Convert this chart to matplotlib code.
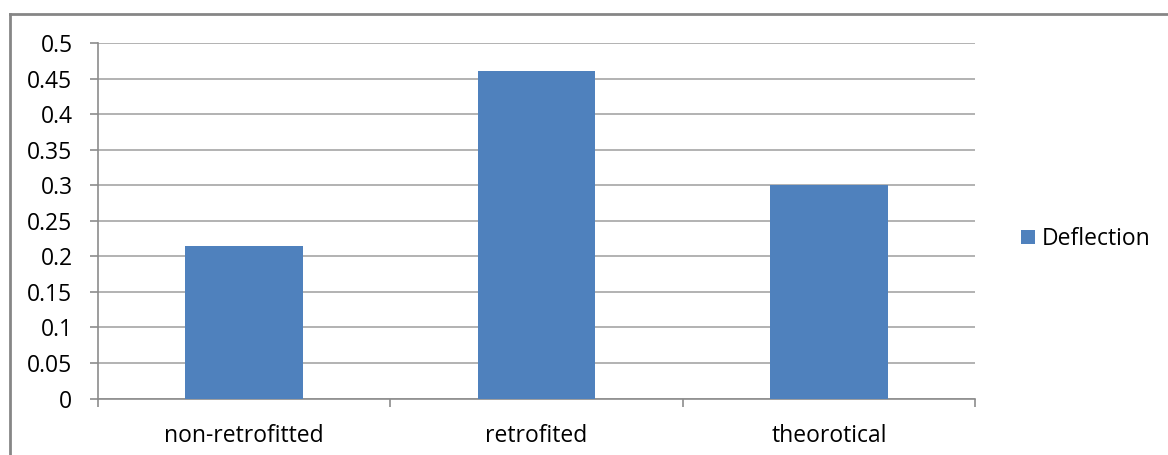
import matplotlib.pyplot as plt
from matplotlib.lines import Line2D
from matplotlib.patches import Patch

categories = ["non-retrofitted", "retrofited", "theorotical"]
deflection = [0.215, 0.46, 0.30]
yticks = [0, 0.05, 0.1, 0.15, 0.2, 0.25, 0.3, 0.35, 0.4, 0.45, 0.5]
ytick_labels = ["0", "0.05", "0.1", "0.15", "0.2", "0.25", "0.3", "0.35", "0.4", "0.45", "0.5"]

W, H = 1168, 455
plt.rcParams["font.family"] = ["Open Sans", "DejaVu Sans"]
fig = plt.figure(figsize=(W / 100, H / 100), dpi=100)

# plot area in pixel coordinates
left, right, top, bottom = 97.5, 975.5, 43, 398.5
ax = fig.add_axes([left / W, 1 - bottom / H, (right - left) / W, (bottom - top) / H])

bar_color = "#4F81BD"
grid_color = "#A6A6A6"
axis_color = "#8C8C8C"
fs = 16.5

x = range(len(categories))
ax.bar(x, deflection, width=0.403, color=bar_color, zorder=3)

ax.set_xlim(-0.5, len(categories) - 0.5)
ax.set_ylim(0, 0.5)
ax.set_yticks(yticks)
ax.set_yticklabels(ytick_labels)
ax.yaxis.grid(True, color=grid_color, linewidth=1.2, zorder=0)

# category labels centred, tick marks on the boundaries
ax.set_xticks(list(x))
ax.set_xticklabels(categories)
ax.set_xticks([-0.5, 0.5, 1.5, 2.5], minor=True)
ax.tick_params(axis="x", which="major", length=0, pad=18, labelsize=fs, colors="#000000")
ax.tick_params(axis="x", which="minor", length=6, width=1.2, color=axis_color)
ax.tick_params(axis="y", length=6, width=1.2, color=axis_color, labelsize=fs, pad=12)

for side in ["top", "right"]:
    ax.spines[side].set_visible(False)
for side in ["left", "bottom"]:
    ax.spines[side].set_color(axis_color)
    ax.spines[side].set_linewidth(1.2)
ax.set_axisbelow(True)

# chart frame (left and top edges)
fx0, fy0 = 9.5 / W, 1 - 13.5 / H
fig.add_artist(Line2D([fx0, fx0], [0, fy0], transform=fig.transFigure, color="#868686", linewidth=2))
fig.add_artist(Line2D([fx0, 1], [fy0, fy0], transform=fig.transFigure, color="#868686", linewidth=2))

handle = Patch(facecolor=bar_color, edgecolor="none")
fig.legend([handle], ["Deflection"], loc="center left",
           bbox_to_anchor=(1000 / W, 1 - 239 / H), frameon=False,
           fontsize=fs, handlelength=0.62, handleheight=0.62, handletextpad=0.3)

fig.savefig("out.png", dpi=100)
